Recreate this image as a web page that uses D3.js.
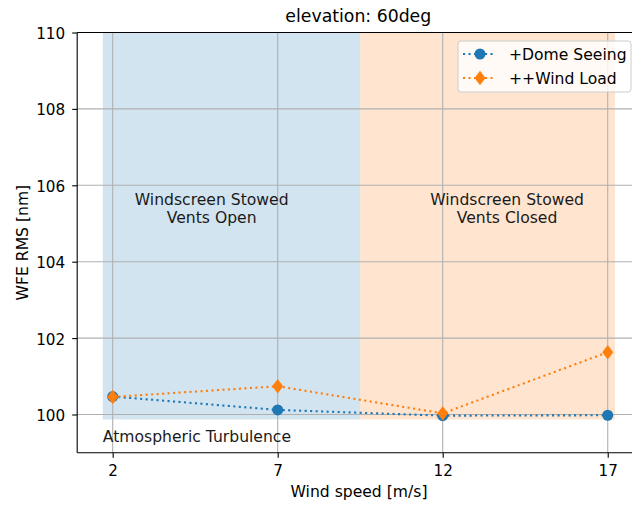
<!DOCTYPE html>
<html>
<head>
<meta charset="utf-8">
<script src="https://cdn.jsdelivr.net/npm/d3@7"></script>
<style>
  body { margin: 0; background: #fff; }
  svg { display: block; font-family: "DejaVu Sans", sans-serif; }
</style>
</head>
<body>
<div id="chart"></div>
<script>
// data
var windSpeeds = [2, 7, 12, 17];
var domeSeeing = [100.47, 100.12, 99.97, 99.98];
var windLoad = [100.46, 100.74, 100.03, 101.63];
var xTicks = [2, 7, 12, 17];
var yTicks = [100, 102, 104, 106, 108, 110];
var seriesNames = ["+Dome Seeing", "++Wind Load"];
var regions = [
  {x0: 1.7, x1: 9.5, y0: 99.87, label: ["Windscreen Stowed", "Vents Open"], lx: 5, ly: 105.25, color: "#1f77b4"},
  {x0: 9.5, x1: 17.22, y0: 99.87, label: ["Windscreen Stowed", "Vents Closed"], lx: 13.95, ly: 105.25, color: "#ff7f0e"}
];

var svgWidth = 632, svgHeight = 506;
var margin = {left: 77.2, top: 32.5, right: 639.9, bottom: 452.7};
var tickFont = "15.2px", textFont = "15.6px";

var svg = d3.select("#chart").append("svg")
  .attr("width", svgWidth)
  .attr("height", svgHeight);

var xScale = d3.scaleLinear().domain([0.925, 17.975]).range([margin.left, margin.right]);
var yScale = d3.scaleLinear().domain([99, 110]).range([margin.bottom, margin.top]);

svg.append("defs").append("clipPath").attr("id", "clip")
  .append("rect")
    .attr("x", margin.left).attr("y", margin.top)
    .attr("width", margin.right - margin.left)
    .attr("height", margin.bottom - margin.top);

var plot = svg.append("g").attr("clip-path", "url(#clip)");

// shaded regions
plot.selectAll(".region")
  .data(regions)
  .enter()
  .append("rect")
    .attr("x", function(d){ return xScale(d.x0); })
    .attr("width", function(d){ return xScale(d.x1) - xScale(d.x0); })
    .attr("y", yScale(110))
    .attr("height", function(d){ return yScale(d.y0) - yScale(110); })
    .attr("fill", function(d){ return d.color; })
    .attr("fill-opacity", 0.2);

// grid
plot.selectAll(".vgrid")
  .data(xTicks)
  .enter()
  .append("line")
    .attr("x1", function(d){ return xScale(d); })
    .attr("x2", function(d){ return xScale(d); })
    .attr("y1", margin.top).attr("y2", margin.bottom)
    .attr("stroke", "#b0b0b0").attr("stroke-width", 1.1);
plot.selectAll(".hgrid")
  .data(yTicks)
  .enter()
  .append("line")
    .attr("y1", function(d){ return yScale(d); })
    .attr("y2", function(d){ return yScale(d); })
    .attr("x1", margin.left).attr("x2", margin.right)
    .attr("stroke", "#b0b0b0").attr("stroke-width", 1.1);

// region labels
regions.forEach(function(r){
  var t = plot.append("text")
    .attr("text-anchor", "middle")
    .attr("font-size", textFont)
    .attr("fill", "#1a1a1a");
  r.label.forEach(function(line, i){
    t.append("tspan")
      .attr("x", xScale(r.lx))
      .attr("y", yScale(r.ly) + (i - 0.5) * 18.3)
      .text(line);
  });
});

plot.append("text")
  .attr("x", xScale(1.7))
  .attr("y", yScale(99.43) + 5.4)
  .attr("font-size", textFont)
  .attr("fill", "#1a1a1a")
  .text("Atmospheric Turbulence");

// lines
var line = d3.line()
  .x(function(d, i){ return xScale(windSpeeds[i]); })
  .y(function(d){ return yScale(d); });

var series = [
  {values: domeSeeing, color: "#1f77b4", marker: "circle"},
  {values: windLoad, color: "#ff7f0e", marker: "diamond"}
];

function drawMarker(g, type, x, y, color){
  if (type === "circle") {
    g.append("circle").attr("cx", x).attr("cy", y).attr("r", 5.5).attr("fill", color);
  } else {
    g.append("path")
      .attr("d", "M" + x + "," + (y - 7.2) + "L" + (x + 5.5) + "," + y + "L" + x + "," + (y + 7.2) + "L" + (x - 5.5) + "," + y + "Z")
      .attr("fill", color);
  }
}

series.forEach(function(s){
  plot.append("path")
    .datum(s.values)
    .attr("d", line)
    .attr("fill", "none")
    .attr("stroke", s.color)
    .attr("stroke-width", 2.1)
    .attr("stroke-dasharray", "2.1,3.4");
  s.values.forEach(function(v, i){
    drawMarker(plot, s.marker, xScale(windSpeeds[i]), yScale(v), s.color);
  });
});

// axes
var xAxis = d3.axisBottom(xScale).tickValues(xTicks).tickSize(5).tickPadding(7.5);
var yAxis = d3.axisLeft(yScale).tickValues(yTicks).tickSize(5).tickPadding(7);

var gx = svg.append("g")
  .attr("transform", "translate(0," + margin.bottom + ")")
  .call(xAxis);
var gy = svg.append("g")
  .attr("transform", "translate(" + margin.left + ",0)")
  .call(yAxis);
[gx, gy].forEach(function(g){
  g.select(".domain").remove();
  g.selectAll("line").attr("stroke", "#000").attr("stroke-width", 1.1);
  g.selectAll("text")
    .attr("font-family", "DejaVu Sans, sans-serif")
    .attr("font-size", tickFont)
    .attr("fill", "#000");
});
gy.selectAll("text").attr("dy", "0.4em");

// spines
svg.append("line").attr("x1", margin.left).attr("x2", margin.left)
  .attr("y1", margin.top).attr("y2", margin.bottom).attr("stroke", "#000").attr("stroke-width", 1.1);
svg.append("line").attr("x1", margin.left).attr("x2", svgWidth)
  .attr("y1", margin.bottom).attr("y2", margin.bottom).attr("stroke", "#000").attr("stroke-width", 1.1);
svg.append("line").attr("x1", margin.left).attr("x2", svgWidth)
  .attr("y1", margin.top).attr("y2", margin.top).attr("stroke", "#000").attr("stroke-width", 1.1);

// title and labels
svg.append("text")
  .attr("x", 358.3)
  .attr("y", 22)
  .attr("text-anchor", "middle")
  .attr("font-size", "17.3px")
  .text("elevation: 60deg");

svg.append("text")
  .attr("x", 359)
  .attr("y", 497)
  .attr("text-anchor", "middle")
  .attr("font-size", textFont)
  .text("Wind speed [m/s]");

svg.append("text")
  .attr("transform", "translate(28," + ((margin.top + margin.bottom) / 2) + ") rotate(-90)")
  .attr("text-anchor", "middle")
  .attr("font-size", textFont)
  .text("WFE RMS [nm]");

// legend
var legend = svg.append("g").attr("transform", "translate(458,41)");
legend.append("rect")
  .attr("x", 0).attr("y", 0)
  .attr("width", 173).attr("height", 51)
  .attr("rx", 3)
  .attr("fill", "#fff").attr("fill-opacity", 0.8)
  .attr("stroke", "#ccc").attr("stroke-width", 1);
series.forEach(function(s, i){
  var y = 13 + i * 24;
  legend.append("line")
    .attr("x1", 5).attr("x2", 36)
    .attr("y1", y).attr("y2", y)
    .attr("stroke", s.color)
    .attr("stroke-width", 2.1)
    .attr("stroke-dasharray", "2.1,3.4");
  drawMarker(legend, s.marker, 22, y, s.color);
  legend.append("text")
    .attr("x", 51)
    .attr("y", y + 5.5)
    .attr("font-size", textFont)
    .attr("fill", "#000")
    .text(seriesNames[i]);
});
</script>
</body>
</html>
